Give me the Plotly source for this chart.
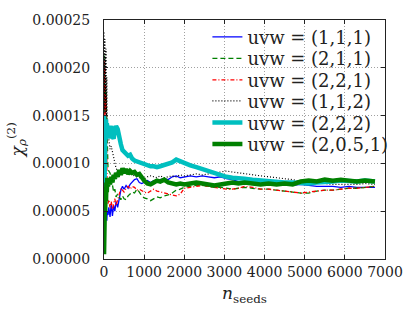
import plotly.graph_objects as go

# shared sample positions (number of seeds)
n_seeds = [1, 5, 10, 15, 20, 25, 30, 40, 50, 60, 70, 80, 100, 120, 150, 180, 210, 240, 270, 300,
           340, 380, 420, 460, 500, 550, 600, 650, 700, 760, 820, 880, 940, 1000, 1080, 1160, 1240,
           1320, 1400, 1500, 1600, 1700, 1800, 1900, 2000, 2150, 2300, 2450, 2600, 2750, 2900, 3050,
           3200, 3350, 3500, 3700, 3900, 4100, 4300, 4500, 4700, 4900, 5100, 5300, 5500, 5700, 5900,
           6100, 6300, 6500, 6750]

# values in units of 1e-5
uvw_111 = [6.0, 4.5, 5.5, 4.8, 6.2, 5.0, 4.2, 5.6, 4.6, 5.2, 4.0, 5.0, 4.6, 5.4, 4.4, 5.8, 4.5, 5.6,
           5.0, 6.0, 5.4, 6.5, 7.2, 7.6, 7.3, 7.7, 7.4, 7.8, 8.0, 8.3, 8.4, 8.0, 7.9, 8.0, 8.2, 8.0,
           8.2, 8.1, 8.3, 8.4, 8.3, 8.6, 8.7, 8.5, 8.6, 8.7, 8.6, 8.7, 8.6, 8.5, 8.6, 8.4, 8.3, 8.1,
           8.0, 8.0, 7.9, 7.9, 7.8, 7.8, 7.7, 7.8, 7.7, 7.6, 7.6, 7.6, 7.5, 7.6, 7.5, 7.5, 7.5]
uvw_211 = [21.3, 15.5, 20.0, 16.5, 19.0, 15.2, 18.0, 16.0, 17.5, 15.0, 14.0, 11.0, 9.5, 9.2, 9.0,
           8.5, 7.5, 7.0, 7.3, 6.5, 6.8, 6.4, 6.2, 6.6, 6.3, 6.2, 6.6, 6.8, 7.0, 6.9, 7.3, 7.0, 6.6,
           6.4, 6.3, 6.1, 6.3, 6.5, 6.4, 6.6, 6.7, 6.9, 7.2, 7.3, 7.5, 7.6, 7.7, 7.7, 7.6, 7.5, 7.5,
           7.4, 7.3, 7.4, 7.5, 7.4, 7.3, 7.3, 7.2, 7.1, 7.0, 6.9, 6.9, 7.1, 7.2, 7.2, 7.3, 7.4, 7.4,
           7.5, 7.6]
uvw_221 = [20.7, 15.0, 19.5, 16.0, 20.2, 15.5, 18.5, 15.2, 17.0, 12.0, 8.0, 6.5, 5.8, 6.2, 5.4, 6.0,
           5.2, 5.8, 6.3, 5.6, 6.2, 6.8, 7.4, 7.2, 7.0, 7.4, 7.6, 7.3, 7.6, 7.5, 7.2, 7.3, 7.1, 7.0,
           6.9, 7.1, 7.3, 7.1, 7.0, 6.9, 6.8, 6.7, 6.6, 6.8, 7.4, 7.5, 7.6, 7.7, 7.6, 7.5, 7.4, 7.3,
           7.3, 7.4, 7.6, 7.5, 7.3, 7.3, 7.2, 7.1, 7.0, 6.9, 7.0, 7.1, 7.2, 7.2, 7.3, 7.4, 7.4, 7.5,
           7.6]
uvw_112 = [23.7, 15.5, 22.5, 16.0, 23.0, 15.2, 21.0, 16.5, 22.0, 15.0, 19.0, 14.3, 13.8, 12.5, 11.5,
           11.8, 11.2, 10.4, 10.0, 9.5, 9.2, 9.4, 9.1, 9.4, 9.6, 9.2, 9.0, 8.9, 8.8, 8.7, 8.6, 8.5,
           8.5, 8.4, 8.6, 8.7, 8.6, 8.5, 8.7, 8.5, 8.6, 8.7, 8.6, 8.8, 8.7, 8.8, 8.9, 8.8, 8.9, 9.0,
           9.1, 9.2, 9.1, 9.0, 8.9, 8.8, 8.7, 8.6, 8.5, 8.4, 8.3, 8.1, 8.0, 7.9, 7.9, 7.8, 7.8, 7.8,
           7.8, 7.9, 7.8]
uvw_222 = [15.0, 5.5, 12.0, 8.0, 14.5, 11.0, 14.0, 12.5, 14.6, 13.0, 14.2, 13.5, 13.0, 12.6, 13.6,
           13.9, 12.8, 12.6, 13.4, 13.9, 13.6, 12.6, 12.0, 11.4, 11.2, 11.0, 10.8, 10.9, 10.5, 10.3,
           10.2, 10.1, 10.0, 9.9, 9.8, 9.7, 9.7, 9.6, 9.7, 9.8, 9.9, 10.1, 10.4, 10.2, 10.1, 9.8, 9.6,
           9.4, 9.1, 8.9, 8.8, 8.6, 8.5, 8.4, 8.4, 8.3, 8.2, 8.2, 8.1, 8.0, 8.0, 7.9, 7.9, 8.0, 8.0,
           8.1, 8.2, 8.1, 8.1, 8.2, 8.1]
uvw_2051 = [0.5, 4.0, 1.5, 6.0, 3.0, 6.5, 5.0, 7.5, 6.0, 8.0, 7.0, 8.5, 7.6, 8.2, 7.8, 8.6, 8.0, 8.8,
            8.4, 9.0, 8.6, 9.3, 8.8, 9.5, 9.0, 9.4, 8.9, 9.2, 9.0, 9.1, 8.8, 8.9, 8.5, 8.2, 7.9, 7.8,
            8.0, 8.2, 8.1, 8.3, 8.0, 7.9, 7.8, 7.9, 7.8, 7.9, 8.0, 7.9, 7.8, 7.7, 7.8, 7.9, 8.0, 7.9,
            8.0, 7.9, 7.8, 7.9, 7.8, 7.9, 7.8, 8.1, 8.2, 8.1, 8.3, 8.2, 8.3, 8.2, 8.1, 8.2, 8.1]

series_names = ["uvw = (1,1,1)", "uvw = (2,1,1)", "uvw = (2,2,1)", "uvw = (1,1,2)",
                "uvw = (2,2,2)", "uvw = (2,0.5,1)"]
series_values = [uvw_111, uvw_211, uvw_221, uvw_112, uvw_222, uvw_2051]

styles = [
    dict(color="#0000ff", width=1.3, dash="solid"),
    dict(color="#008000", width=1.3, dash="5px,3px"),
    dict(color="#ff0000", width=1.3, dash="4px,2px,1px,2px"),
    dict(color="#000000", width=1.2, dash="1px,2px"),
    dict(color="#00bfbf", width=4.5, dash="solid"),
    dict(color="#008000", width=4.5, dash="solid"),
]

# legend row centres, as fractions of the plot height
legend_rows = [0.928, 0.838, 0.748, 0.660, 0.570, 0.480]

y_ticks = [0.0, 0.00005, 0.0001, 0.00015, 0.0002, 0.00025]
x_ticks = [0, 1000, 2000, 3000, 4000, 5000, 6000, 7000]

font = "DejaVu Serif, serif"

fig = go.Figure()
legend_layout = {}
for i, (name, vals, st, ly) in enumerate(zip(series_names, series_values, styles, legend_rows)):
    key = "legend" if i == 0 else f"legend{i + 1}"
    fig.add_trace(go.Scatter(x=n_seeds, y=[v * 1e-5 for v in vals], mode="lines", name=name,
                             line=st, legend=key))
    legend_layout[key] = dict(x=0.368, y=ly, xanchor="left", yanchor="middle",
                              bgcolor="rgba(0,0,0,0)", borderwidth=0,
                              font=dict(family=font, size=18, color="#222"))

axis_common = dict(showline=True, linecolor="#222", linewidth=1, mirror="allticks",
                   ticks="inside", ticklen=4, tickcolor="#222", showgrid=True,
                   gridcolor="#a0a0a0", griddash="1px,2px", gridwidth=1, zeroline=False,
                   tickfont=dict(family=font, size=14, color="#222"))

fig.update_layout(
    width=415, height=312,
    margin=dict(l=104, r=21, t=16, b=47),
    paper_bgcolor="white", plot_bgcolor="white",
    font=dict(family=font, color="#222"),
    showlegend=True,
    xaxis=dict(range=[0, 7000], tickvals=x_ticks, ticktext=[str(v) for v in x_ticks],
               title=dict(text="<i>n</i><sub>seeds</sub>", font=dict(family=font, size=17),
                          standoff=8),
               **axis_common),
    yaxis=dict(range=[0, 0.00025], tickvals=y_ticks, ticktext=[f"{v:.5f}" for v in y_ticks],
               ticklabelstandoff=10,
               **axis_common),
    annotations=[dict(text="<i>χ</i><sub><i>ρ</i></sub><sup>(2)</sup>", xref="paper",
                      yref="paper", x=-0.31, y=0.5, xanchor="center", yanchor="middle",
                      textangle=-90, showarrow=False,
                      font=dict(family=font, size=17, color="#222"))],
    **legend_layout,
)

fig.write_html("out.html", config={"displayModeBar": False},
               post_script="document.body.style.margin='0';")
